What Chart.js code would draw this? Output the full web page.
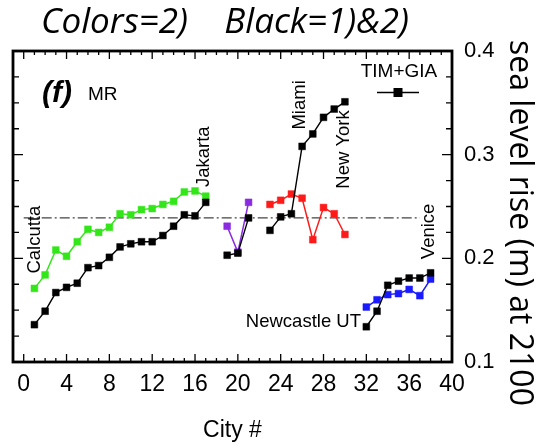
<!DOCTYPE html>
<html>
<head>
<meta charset="utf-8">
<script src="https://cdn.jsdelivr.net/npm/chart.js@4.4.1/dist/chart.umd.min.js"></script>
<style>
  html, body { margin: 0; padding: 0; background: #fff; }
</style>
</head>
<body>
<canvas id="myChart" width="547" height="445"></canvas>
<script>
// city numbers along the x axis
const cities = [1, 2, 3, 4, 5, 6, 7, 8, 9, 10, 11, 12, 13, 14, 15, 16, 17, 18, 19,
  20, 21, 22, 23, 24, 25, 26, 27, 28, 29, 30, 31, 32, 33, 34, 35, 36, 37, 38];

// TIM+GIA (black), gaps between city groups
const timGia = [0.136, 0.149, 0.167, 0.172, 0.176, 0.191, 0.193, 0.201, 0.211, 0.214,
  0.216, 0.216, 0.222, 0.231, 0.242, 0.241, 0.254, null,
  0.203, 0.205, 0.239, null,
  0.227, 0.240, 0.243, 0.308, 0.320, 0.336, 0.344, 0.351, null,
  0.134, 0.149, 0.174, 0.178, 0.181, 0.181, 0.186];

// coloured groups
const greenCities = [1, 2, 3, 4, 5, 6, 7, 8, 9, 10, 11, 12, 13, 14, 15, 16, 17];
const greenRise = [0.171, 0.184, 0.208, 0.202, 0.216, 0.228, 0.225, 0.230, 0.243, 0.242,
  0.247, 0.248, 0.252, 0.255, 0.264, 0.265, 0.260];
const purpleCities = [19, 20, 21];
const purpleRise = [0.231, 0.206, 0.254];
const redCities = [23, 24, 25, 26, 27, 28, 29, 30];
const redRise = [0.252, 0.256, 0.262, 0.258, 0.218, 0.249, 0.243, 0.223];
const blueCities = [32, 33, 34, 35, 36, 37, 38];
const blueRise = [0.153, 0.160, 0.165, 0.166, 0.170, 0.164, 0.180];

// mean level (dash-dot)
const meanX = [0, 37];
const meanRise = [0.239, 0.239];

const yTicks = [0.1, 0.2, 0.3, 0.4];

const pts = (xs, ys) => xs.map((c, i) => ({x: c, y: ys[i]}));

function series(label, xs, ys, color, width) {
  return {
    label: label,
    data: pts(xs, ys),
    borderColor: color,
    backgroundColor: color,
    borderWidth: width,
    pointStyle: 'rect',
    pointRadius: 4.8,
    pointBorderWidth: 0.5,
    pointBorderColor: color,
    spanGaps: false,
    tension: 0
  };
}

const HELV = '"Liberation Sans", Arial, sans-serif';
const CALI = '"Open Sans", sans-serif';

function label(ctx, str, px, py, font, rot, align) {
  ctx.save();
  ctx.translate(px, py);
  ctx.rotate(rot);
  ctx.font = font;
  ctx.fillStyle = '#000';
  ctx.textAlign = align || 'center';
  ctx.textBaseline = 'middle';
  ctx.fillText(str, 0, 0);
  ctx.restore();
}

// frame, inward ticks, labels and legend
const decor = {
  id: 'decor',
  afterDatasetsDraw(chart) {
    const {ctx, chartArea: a, scales: {x, y}} = chart;
    ctx.save();
    ctx.strokeStyle = '#000';
    ctx.lineWidth = 1.3;
    ctx.beginPath();
    for (let i = -1; i <= 40; i++) {
      const px = x.getPixelForValue(i);
      const len = i % 4 === 0 ? 8 : 4;
      ctx.moveTo(px, a.bottom); ctx.lineTo(px, a.bottom - len);
      ctx.moveTo(px, a.top); ctx.lineTo(px, a.top + len);
    }
    for (let k = 0; k <= 12; k++) {
      const py = y.getPixelForValue(0.1 + k * 0.025);
      const len = k % 4 === 0 ? 10 : 6;
      ctx.moveTo(a.left, py); ctx.lineTo(a.left + len, py);
      ctx.moveTo(a.right, py); ctx.lineTo(a.right - len, py);
    }
    ctx.stroke();
    ctx.lineWidth = 2.8;
    ctx.strokeRect(a.left, a.top, a.right - a.left, a.bottom - a.top);
    ctx.restore();

    // panel tag
    ctx.save();
    ctx.fillStyle = '#000';
    ctx.textBaseline = 'alphabetic';
    ctx.font = 'italic bold 30px ' + HELV;
    ctx.fillText('(f)', 42, 102);
    ctx.font = '19px ' + HELV;
    ctx.fillText('MR', 88, 100);
    ctx.restore();

    // city names
    const cityFont = '18.5px ' + HELV;
    const up = -Math.PI / 2;
    label(ctx, 'Calcutta', x.getPixelForValue(1.05), y.getPixelForValue(0.218), cityFont, up);
    label(ctx, 'Jakarta', x.getPixelForValue(16.85), y.getPixelForValue(0.298), cityFont, up);
    label(ctx, 'Miami', x.getPixelForValue(25.8), y.getPixelForValue(0.348), cityFont, up);
    label(ctx, 'New York', x.getPixelForValue(29.9), y.getPixelForValue(0.305), cityFont, up);
    label(ctx, 'Venice', x.getPixelForValue(37.8), y.getPixelForValue(0.226), cityFont, up);
    label(ctx, 'Newcastle UT', x.getPixelForValue(31.5), y.getPixelForValue(0.139), cityFont, 0, 'right');

    // legend
    ctx.save();
    label(ctx, 'TIM+GIA', 399, 72, '19px ' + HELV, 0);
    ctx.strokeStyle = '#000';
    ctx.lineWidth = 1.3;
    ctx.beginPath();
    ctx.moveTo(377, 92.5); ctx.lineTo(419, 92.5);
    ctx.stroke();
    ctx.fillStyle = '#000';
    ctx.fillRect(393.5, 88, 9, 9);
    ctx.restore();

    // headings
    label(ctx, 'Colors=2)    Black=1)&2)', 225, 23, 'italic 35px ' + CALI, 0);
    label(ctx, 'sea level rise (m) at 2100', 519, 223, '32px ' + CALI, Math.PI / 2);
  }
};

const ctx = document.getElementById('myChart').getContext('2d');
const myChart = new Chart(ctx, {
  type: 'line',
  data: {
    datasets: [
      series('TIM+GIA', cities, timGia, '#000', 1.4),
      series('green', greenCities, greenRise, '#33e619', 1.5),
      series('purple', purpleCities, purpleRise, '#8a2be2', 1.5),
      series('red', redCities, redRise, '#ff1a1a', 1.5),
      series('blue', blueCities, blueRise, '#1a1aff', 1.5),
      {
        label: 'mean',
        data: pts(meanX, meanRise),
        borderColor: '#444',
        borderWidth: 1.4,
        borderDash: [10, 3, 2, 3],
        pointRadius: 0
      }
    ]
  },
  options: {
    responsive: false,
    animation: false,
    layout: { padding: { left: 13, top: 51, right: 0, bottom: 0 } },
    plugins: { legend: { display: false }, tooltip: { enabled: false } },
    scales: {
      x: {
        type: 'linear',
        min: -1,
        max: 40,
        grid: { display: false, drawTicks: false },
        border: { display: false },
        afterBuildTicks: (s) => { s.ticks = [0, 4, 8, 12, 16, 20, 24, 28, 32, 36, 40].map(v => ({value: v})); },
        ticks: { color: '#000', font: { family: HELV, size: 23 }, padding: 9, maxRotation: 0 },
        title: { display: true, text: 'City #', color: '#000', font: { family: HELV, size: 23 }, padding: { top: 0, bottom: 1 } },
        afterFit: (s) => { s.height = 83; }
      },
      y: {
        position: 'right',
        min: 0.1,
        max: 0.4,
        grid: { display: false, drawTicks: false },
        border: { display: false },
        afterBuildTicks: (s) => { s.ticks = yTicks.map(v => ({value: v})); },
        ticks: { color: '#000', font: { family: HELV, size: 22 }, padding: 12, callback: (v) => v.toFixed(1) },
        afterFit: (s) => { s.width = 95; }
      }
    }
  },
  plugins: [decor]
});
</script>
</body>
</html>
